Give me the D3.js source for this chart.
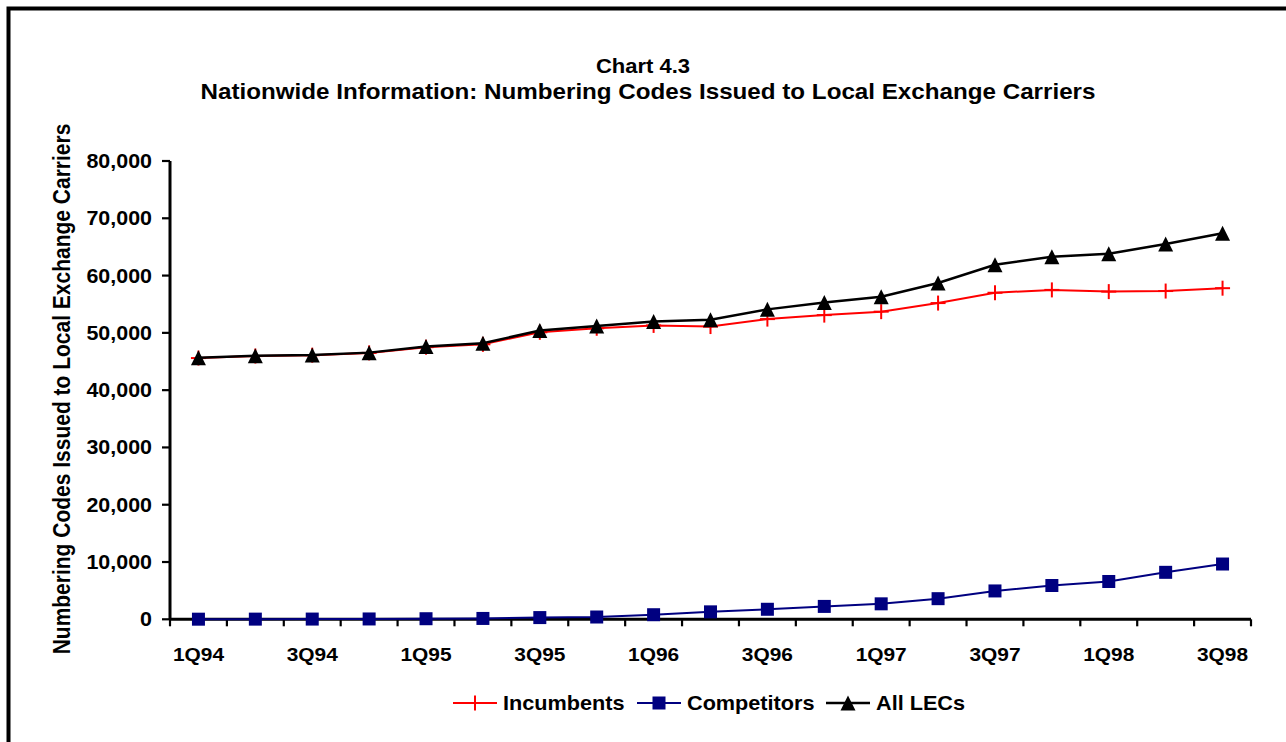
<!DOCTYPE html>
<html>
<head>
<meta charset="utf-8">
<script src="https://cdn.jsdelivr.net/npm/d3@7"></script>
<style>
  html, body { margin: 0; padding: 0; background: #fff; }
  svg { display: block; }
</style>
</head>
<body>
<svg id="chart" width="1286" height="742"></svg>
<script>
// Quarterly numbering codes issued
const quarters = ['1Q94', '2Q94', '3Q94', '4Q94', '1Q95', '2Q95', '3Q95', '4Q95', '1Q96', '2Q96',
  '3Q96', '4Q96', '1Q97', '2Q97', '3Q97', '4Q97', '1Q98', '2Q98', '3Q98'];
const incumbents = [45600, 45950, 46100, 46500, 47500, 48000, 50100, 50800, 51300, 51100,
  52400, 53100, 53700, 55200, 57000, 57500, 57200, 57300, 57800];
const competitors = [20, 30, 40, 60, 100, 150, 300, 400, 800, 1300,
  1750, 2250, 2700, 3600, 4950, 5900, 6600, 8200, 9650];
const allLECs = [45650, 46000, 46150, 46550, 47600, 48200, 50400, 51200, 52000, 52300,
  54100, 55300, 56300, 58700, 61900, 63300, 63800, 65500, 67400];
const yTicks = [0, 10000, 20000, 30000, 40000, 50000, 60000, 70000, 80000];

const color = { red: '#ff0000', navy: '#000080', black: '#000000' };
const font = '"Liberation Sans", Arial, Helvetica, sans-serif';
const stretch = 1.1; // the original picture is slightly widened

const svg = d3.select('#chart').style('font-family', font);

// Outer frame (only top and left edges fall inside the picture)
svg.append('rect')
  .attr('x', 8.5).attr('y', 8.5)
  .attr('width', 1400).attr('height', 900)
  .attr('fill', 'none').attr('stroke', '#000').attr('stroke-width', 4);

const x = d3.scaleBand().domain(quarters).range([170, 1251]);
const y = d3.scaleLinear().domain([0, 80000]).range([619.3, 161]);
const cx = q => x(q) + x.bandwidth() / 2;

// helper for horizontal text with the widened look
function label(parent, str, px, py, size, anchor) {
  return parent.append('text')
    .attr('transform', `translate(${px},${py}) scale(${stretch},1)`)
    .attr('font-size', size)
    .attr('font-weight', 'bold')
    .attr('text-anchor', anchor || 'middle')
    .text(str);
}

// Title
label(svg, 'Chart 4.3', 643, 73, 20);
label(svg, 'Nationwide Information: Numbering Codes Issued to Local Exchange Carriers', 648, 99, 22);

// Y axis title
svg.append('text')
  .attr('transform', `translate(70,389) scale(${stretch},1) rotate(-90)`)
  .attr('font-size', 21)
  .attr('font-weight', 'bold')
  .attr('text-anchor', 'middle')
  .text('Numbering Codes Issued to Local Exchange Carriers');

// Y axis
const yAxis = svg.append('g').attr('class', 'axis y');
yAxis.append('line')
  .attr('x1', 170).attr('x2', 170)
  .attr('y1', y(80000)).attr('y2', y(0))
  .attr('stroke', '#000').attr('stroke-width', 3);
yTicks.forEach(v => {
  yAxis.append('line')
    .attr('x1', 162).attr('x2', 170)
    .attr('y1', y(v)).attr('y2', y(v))
    .attr('stroke', '#000').attr('stroke-width', 2.2);
  label(yAxis, d3.format(',')(v), 152, y(v) + 7, 19.5, 'end');
});

// X axis
const xAxis = svg.append('g').attr('class', 'axis x');
xAxis.append('line')
  .attr('x1', 170).attr('x2', 1251)
  .attr('y1', y(0)).attr('y2', y(0))
  .attr('stroke', '#000').attr('stroke-width', 3);
quarters.concat([null]).forEach(q => {
  const px = q === null ? x.range()[1] : x(q);
  xAxis.append('line')
    .attr('x1', px).attr('x2', px)
    .attr('y1', y(0)).attr('y2', y(0) + 7)
    .attr('stroke', '#000').attr('stroke-width', 2.2);
});
quarters.forEach((q, i) => {
  if (i % 2 === 0) label(xAxis, q, cx(q), 661, 19);
});

// Markers
const markers = {
  plus: (g, s) => {
    g.append('line').attr('x1', -s / 2).attr('x2', s / 2).attr('y1', 0).attr('y2', 0)
      .attr('stroke', color.red).attr('stroke-width', 2);
    g.append('line').attr('x1', 0).attr('x2', 0).attr('y1', -s / 2).attr('y2', s / 2)
      .attr('stroke', color.red).attr('stroke-width', 2);
  },
  square: (g, s) => {
    g.append('rect').attr('x', -s / 2).attr('y', -s / 2).attr('width', s).attr('height', s)
      .attr('fill', color.navy);
  },
  triangle: (g, s) => {
    g.append('path').attr('d', `M0,${-s / 2}L${s / 2},${s / 2}L${-s / 2},${s / 2}Z`)
      .attr('fill', color.black);
  }
};

const series = [
  { name: 'Incumbents', values: incumbents, stroke: color.red, width: 2, marker: 'plus', size: 15 },
  { name: 'Competitors', values: competitors, stroke: color.navy, width: 2, marker: 'square', size: 13 },
  { name: 'All LECs', values: allLECs, stroke: color.black, width: 2.5, marker: 'triangle', size: 15 }
];

const line = d3.line().x((d, i) => cx(quarters[i])).y(d => y(d));
const plot = svg.append('g').attr('class', 'plot');

series.forEach(s => {
  const g = plot.append('g').attr('class', 'series');
  g.append('path')
    .attr('d', line(s.values))
    .attr('fill', 'none')
    .attr('stroke', s.stroke)
    .attr('stroke-width', s.width);
  s.values.forEach((v, i) => {
    const m = g.append('g').attr('transform', `translate(${cx(quarters[i])},${y(v)})`);
    markers[s.marker](m, s.size);
  });
});

// Legend
const legend = svg.append('g').attr('class', 'legend');
const legendItems = [
  { lineX: 453, textX: 503 },
  { lineX: 637, textX: 687 },
  { lineX: 826, textX: 876 }
];
series.forEach((s, i) => {
  const it = legendItems[i];
  legend.append('line')
    .attr('x1', it.lineX).attr('x2', it.lineX + 44)
    .attr('y1', 703).attr('y2', 703)
    .attr('stroke', s.stroke).attr('stroke-width', s.width);
  const m = legend.append('g').attr('transform', `translate(${it.lineX + 22},703)`);
  markers[s.marker](m, s.size);
  label(legend, s.name, it.textX, 710, 19.7, 'start');
});
</script>
</body>
</html>
